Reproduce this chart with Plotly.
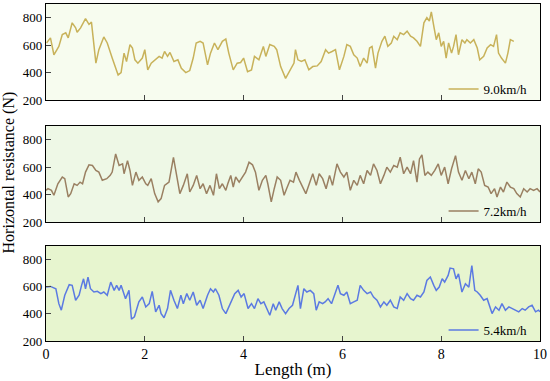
import plotly.graph_objects as go
from plotly.subplots import make_subplots

# length (m) and horizontal resistance (N)
len_90 = [0.01, 0.09, 0.16, 0.26, 0.33, 0.40, 0.45, 0.53, 0.60, 0.63, 0.70, 0.80, 0.87, 0.92,
          1.01, 1.07, 1.17, 1.24, 1.34, 1.46, 1.52, 1.58, 1.63, 1.70, 1.75, 1.80, 1.86, 1.95,
          2.00, 2.06, 2.13, 2.22, 2.29, 2.35, 2.40, 2.46, 2.51, 2.59, 2.67, 2.74, 2.83, 2.91,
          2.98, 3.04, 3.12, 3.18, 3.27, 3.33, 3.41, 3.48, 3.57, 3.64, 3.70, 3.79, 3.87, 3.94,
          4.00, 4.08, 4.16, 4.22, 4.31, 4.40, 4.45, 4.53, 4.62, 4.67, 4.75, 4.85, 4.94, 5.02,
          5.05, 5.10, 5.17, 5.24, 5.32, 5.40, 5.49, 5.57, 5.66, 5.72, 5.79, 5.86, 5.94, 6.03,
          6.09, 6.16, 6.23, 6.30, 6.36, 6.43, 6.50, 6.55, 6.60, 6.67, 6.72, 6.80, 6.86, 6.92,
          6.99, 7.04, 7.11, 7.17, 7.24, 7.31, 7.38, 7.44, 7.51, 7.58, 7.65, 7.71, 7.76, 7.80,
          7.85, 7.90, 7.95, 8.00, 8.05, 8.10, 8.15, 8.21, 8.25, 8.30, 8.35, 8.42, 8.48, 8.52,
          8.59, 8.66, 8.73, 8.78, 8.86, 8.93, 9.00, 9.06, 9.12, 9.16, 9.22, 9.30, 9.35, 9.40, 9.47]
res_90 = [616, 653, 530, 591, 677, 690, 653, 763, 726, 694, 726, 793, 751, 768,
          469, 567, 660, 616, 506, 383, 400, 542, 481, 604, 579, 493, 469, 506,
          567, 420, 469, 493, 518, 506, 554, 518, 547, 481, 493, 432, 400, 415,
          506, 616, 628, 616, 456, 542, 616, 567, 628, 645, 542, 420, 469, 474,
          506, 407, 420, 518, 493, 591, 518, 604, 591, 567, 444, 358, 420, 469,
          567, 493, 481, 493, 420, 444, 449, 481, 567, 542, 554, 567, 420, 518,
          604, 591, 530, 506, 444, 506, 469, 579, 591, 432, 542, 628, 665, 591,
          616, 665, 640, 690, 677, 702, 665, 653, 628, 591, 763, 800, 776, 842,
          739, 640, 690, 591, 628, 506, 616, 542, 591, 677, 530, 640, 616, 640,
          616, 640, 579, 493, 518, 579, 604, 591, 677, 542, 506, 469, 542, 640, 628]

len_72 = [0.00, 0.04, 0.11, 0.16, 0.24, 0.33, 0.38, 0.45, 0.50, 0.57, 0.63, 0.69, 0.74, 0.80,
          0.87, 0.94, 1.01, 1.07, 1.14, 1.23, 1.30, 1.34, 1.41, 1.48, 1.55, 1.58, 1.65, 1.70,
          1.75, 1.82, 1.88, 1.95, 2.02, 2.06, 2.13, 2.20, 2.27, 2.33, 2.40, 2.49, 2.58, 2.65,
          2.71, 2.78, 2.86, 2.91, 2.98, 3.05, 3.12, 3.18, 3.25, 3.32, 3.39, 3.45, 3.51, 3.57,
          3.64, 3.68, 3.74, 3.79, 3.84, 3.91, 3.97, 4.04, 4.11, 4.18, 4.24, 4.31, 4.38, 4.45,
          4.49, 4.56, 4.62, 4.68, 4.75, 4.82, 4.87, 4.94, 5.01, 5.06, 5.13, 5.20, 5.26, 5.33,
          5.40, 5.47, 5.53, 5.60, 5.67, 5.74, 5.80, 5.89, 5.96, 6.03, 6.09, 6.16, 6.23, 6.30,
          6.36, 6.43, 6.50, 6.57, 6.63, 6.70, 6.77, 6.84, 6.90, 6.97, 7.04, 7.11, 7.17, 7.24,
          7.31, 7.38, 7.44, 7.51, 7.56, 7.61, 7.67, 7.73, 7.80, 7.87, 7.94, 8.00, 8.07, 8.14,
          8.21, 8.29, 8.35, 8.42, 8.49, 8.56, 8.62, 8.69, 8.75, 8.81, 8.88, 8.95, 9.01, 9.08,
          9.13, 9.20, 9.26, 9.33, 9.40, 9.47, 9.53, 9.60, 9.67, 9.74, 9.80, 9.87, 9.94, 10.0]
res_72 = [431, 443, 431, 395, 479, 528, 516, 383, 407, 479, 467, 491, 479, 564,
          617, 612, 576, 564, 504, 516, 540, 564, 696, 612, 624, 552, 648, 576,
          467, 564, 504, 528, 479, 467, 516, 407, 347, 371, 467, 491, 672, 516,
          407, 467, 552, 419, 467, 540, 443, 479, 407, 467, 395, 552, 443, 479,
          431, 479, 540, 455, 528, 491, 528, 564, 636, 617, 564, 431, 504, 540,
          479, 347, 443, 528, 504, 395, 443, 504, 491, 564, 504, 455, 407, 479,
          552, 467, 552, 516, 443, 540, 467, 624, 564, 528, 564, 431, 504, 467,
          540, 479, 576, 540, 624, 576, 479, 540, 600, 564, 612, 600, 672, 552,
          600, 552, 648, 491, 660, 689, 540, 564, 540, 576, 624, 540, 600, 479,
          588, 684, 564, 504, 576, 516, 564, 479, 588, 564, 467, 455, 407, 443,
          383, 455, 419, 491, 455, 443, 407, 383, 443, 419, 443, 431, 443, 419]

len_54 = [0.00, 0.09, 0.20, 0.26, 0.31, 0.38, 0.47, 0.53, 0.60, 0.67, 0.72, 0.76, 0.80, 0.85,
          0.90, 0.97, 1.04, 1.11, 1.17, 1.24, 1.31, 1.38, 1.43, 1.48, 1.52, 1.61, 1.68, 1.73,
          1.79, 1.88, 1.95, 2.02, 2.09, 2.15, 2.22, 2.29, 2.33, 2.39, 2.46, 2.52, 2.59, 2.66,
          2.73, 2.78, 2.85, 2.91, 2.98, 3.05, 3.12, 3.18, 3.27, 3.33, 3.39, 3.43, 3.50, 3.57,
          3.64, 3.70, 3.77, 3.82, 3.89, 3.95, 4.01, 4.09, 4.16, 4.22, 4.29, 4.35, 4.41, 4.47,
          4.53, 4.60, 4.65, 4.72, 4.78, 4.85, 4.92, 4.99, 5.05, 5.10, 5.15, 5.22, 5.28, 5.35,
          5.42, 5.47, 5.53, 5.60, 5.65, 5.71, 5.78, 5.84, 5.91, 5.96, 6.03, 6.09, 6.16, 6.23,
          6.30, 6.36, 6.43, 6.50, 6.57, 6.63, 6.70, 6.77, 6.84, 6.90, 6.97, 7.04, 7.11, 7.17,
          7.24, 7.31, 7.38, 7.44, 7.51, 7.58, 7.65, 7.71, 7.78, 7.85, 7.90, 7.96, 8.02, 8.07,
          8.14, 8.18, 8.25, 8.30, 8.35, 8.42, 8.49, 8.56, 8.62, 8.68, 8.73, 8.79, 8.86, 8.93,
          8.98, 9.03, 9.10, 9.17, 9.23, 9.30, 9.37, 9.43, 9.50, 9.57, 9.64, 9.70, 9.77, 9.84,
          9.91, 9.97, 10.0]
res_54 = [597, 602, 585, 475, 427, 537, 615, 610, 500, 537, 610, 658, 585, 671,
          585, 561, 566, 549, 561, 537, 634, 573, 610, 573, 610, 512, 573, 361,
          378, 488, 524, 451, 475, 566, 415, 463, 402, 371, 439, 573, 500, 439,
          537, 475, 549, 500, 561, 463, 500, 439, 537, 585, 561, 585, 537, 439,
          402, 451, 500, 549, 573, 524, 549, 439, 475, 439, 512, 475, 488, 439,
          390, 475, 427, 488, 439, 402, 439, 463, 537, 610, 439, 585, 561, 573,
          549, 427, 488, 475, 488, 512, 475, 537, 610, 549, 537, 561, 475, 488,
          500, 610, 573, 549, 561, 524, 500, 451, 488, 463, 500, 451, 439, 524,
          500, 549, 512, 500, 537, 524, 561, 646, 671, 610, 573, 597, 658, 634,
          683, 737, 732, 658, 695, 561, 622, 597, 756, 573, 561, 537, 500, 512,
          463, 402, 451, 427, 475, 427, 451, 439, 427, 415, 439, 427, 451, 463,
          415, 427, 415]

names = ["9.0km/h", "7.2km/h", "5.4km/h"]
colors = ["#c8b25a", "#9a8062", "#5b7ae2"]
bgs = ["#f7fcef", "#eef8e6", "#e7f5cf"]

FONT = "Liberation Serif, Times New Roman, serif"

fig = make_subplots(rows=3, cols=1)
series = [(len_90, res_90), (len_72, res_72), (len_54, res_54)]
domains = [[0.715, 1.0], [0.353, 0.638], [0.0, 0.282]]

for i, (xs, ys) in enumerate(series):
    row = i + 1
    leg = "legend" if i == 0 else "legend%d" % row
    fig.add_trace(go.Scatter(x=xs, y=ys, mode="lines", name=names[i],
                             line=dict(color=colors[i], width=1.5),
                             legend=leg), row=row, col=1)
    fig.update_xaxes(range=[0, 10], dtick=2, ticks="inside", ticklen=5,
                     showline=True, linecolor="black", linewidth=1.2, mirror=True,
                     showgrid=False, zeroline=False, showticklabels=(row == 3),
                     tickfont=dict(family=FONT, size=14, color="black"),
                     row=row, col=1)
    fig.update_yaxes(range=[200, 900], tickvals=[200, 400, 600, 800], ticks="inside",
                     ticklen=5, showline=True, linecolor="black", linewidth=1.2,
                     mirror=True, showgrid=False, zeroline=False,
                     domain=domains[i],
                     tickfont=dict(family=FONT, size=13, color="black"),
                     row=row, col=1)
    fig.layout[leg] = dict(x=0.985, xanchor="right", y=domains[i][0] - 0.012,
                           yanchor="bottom", bgcolor="rgba(0,0,0,0)",
                           font=dict(family=FONT, size=13, color="black"),
                           itemwidth=30)
    # panel background
    fig.add_shape(type="rect", xref="x%s domain" % ("" if i == 0 else row),
                  yref="y%s domain" % ("" if i == 0 else row),
                  x0=0, x1=1, y0=0, y1=1, fillcolor=bgs[i], line_width=0,
                  layer="below")

fig.update_xaxes(title_text="Length (m)", title_font=dict(family=FONT, size=17),
                 title_standoff=2, row=3, col=1)

fig.add_annotation(text="Horizontal resistance (N)", textangle=-90,
                   xref="paper", yref="paper", x=-0.075, y=0.5,
                   xanchor="center", yanchor="middle",
                   showarrow=False, font=dict(family=FONT, size=16, color="black"))

fig.update_layout(width=550, height=381, margin=dict(l=46, r=10, t=4, b=40),
                  plot_bgcolor="white", paper_bgcolor="white",
                  font=dict(family=FONT, color="black"), showlegend=True)

# drop the default body margin so the figure sits at the page corner
fig.write_html("out.html", config={"displayModeBar": False},
               post_script="document.body.style.margin='0';")
